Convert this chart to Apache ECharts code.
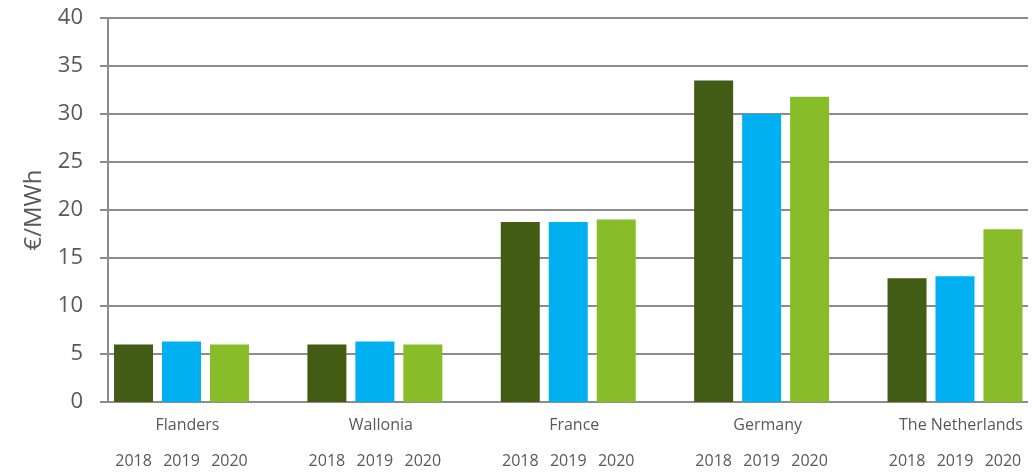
<!DOCTYPE html>
<html>
<head>
<meta charset="utf-8">
<title>€/MWh by region</title>
<script src="https://cdn.jsdelivr.net/npm/echarts@6/dist/echarts.min.js"></script>
<style>
    html, body { margin: 0; padding: 0; background: #fff; }
    #chart { width: 1033px; height: 472px; }
</style>
</head>
<body>
<div id="chart"></div>
<script>
// Data
const regions = ['Flanders', 'Wallonia', 'France', 'Germany', 'The Netherlands']
const years = ['2018', '2019', '2020']
const values2018 = [6.0, 6.0, 18.75, 33.5, 12.9]
const values2019 = [6.3, 6.3, 18.75, 30.0, 13.1]
const values2020 = [6.0, 6.0, 19.0, 31.8, 18.0]
const yTicks = { min: 0, max: 40, interval: 5 }

const colors = ['#425C16', '#00B0F0', '#88BC28']
const textColor = '#595959'
const lineColor = '#8C8C8C'
const font = '"Open Sans", sans-serif'

const chart = echarts.init(document.getElementById('chart'))

function yearSeries(name, data, color) {
    return {
        name: name,
        type: 'bar',
        xAxisIndex: 1,
        yAxisIndex: 1,
        data: data,
        barWidth: 39,
        barGap: '23%',
        itemStyle: { color: color },
        label: {
            show: true,
            position: 'bottom',
            distance: 51,
            formatter: '{a}',
            color: textColor,
            fontFamily: font,
            fontSize: 16
        }
    }
}

const option = {
    animation: false,
    backgroundColor: '#fff',
    grid: [
        // frame with value axis and gridlines
        { left: 108, right: 5, top: 18, bottom: 70 },
        // bars, centred on the group positions
        { left: 181.5, right: 78, top: 18, bottom: 70 }
    ],
    xAxis: [
        { type: 'value', gridIndex: 0, show: false },
        {
            type: 'category',
            gridIndex: 1,
            data: regions,
            boundaryGap: false,
            axisLine: { show: false },
            axisTick: { show: false },
            axisLabel: {
                margin: 15,
                color: textColor,
                fontFamily: font,
                fontSize: 16,
                padding: [0, 0, 0, 12]
            }
        }
    ],
    yAxis: [
        {
            type: 'value',
            gridIndex: 0,
            min: yTicks.min,
            max: yTicks.max,
            interval: yTicks.interval,
            name: '€/MWh',
            nameLocation: 'middle',
            nameGap: 62,
            nameTextStyle: { color: textColor, fontFamily: font, fontSize: 24 },
            axisLine: { show: true, lineStyle: { color: lineColor, width: 2 } },
            axisTick: { show: true, length: 8, lineStyle: { color: lineColor, width: 2 } },
            axisLabel: { margin: 25, color: textColor, fontFamily: font, fontSize: 22 },
            splitLine: { show: true, lineStyle: { color: lineColor, width: 2 } }
        },
        {
            type: 'value',
            gridIndex: 1,
            min: yTicks.min,
            max: yTicks.max,
            interval: yTicks.interval,
            show: false
        }
    ],
    series: [
        yearSeries(years[0], values2018, colors[0]),
        yearSeries(years[1], values2019, colors[1]),
        yearSeries(years[2], values2020, colors[2])
    ]
}

chart.setOption(option)
</script>
</body>
</html>
